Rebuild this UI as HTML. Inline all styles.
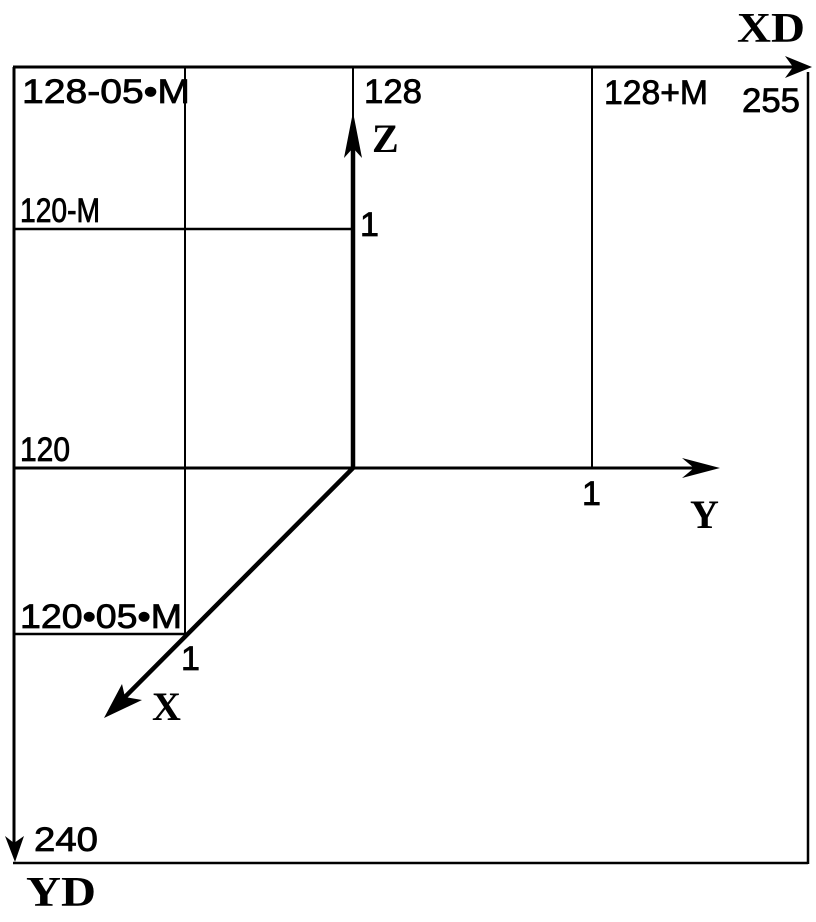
<!DOCTYPE html>
<html><head><style>html,body{margin:0;padding:0;background:#fff}</style></head>
<body>
<svg width="816" height="917" xmlns="http://www.w3.org/2000/svg" font-family="Liberation Sans Narrow, Liberation Sans, sans-serif">
<g stroke="#000" fill="none">
<line x1="13" y1="67" x2="805" y2="67" stroke-width="3"/>
<line x1="808" y1="72" x2="808" y2="864" stroke-width="2.5"/>
<line x1="13" y1="863" x2="808" y2="863" stroke-width="2.5"/>
<line x1="14" y1="67" x2="14" y2="850" stroke-width="3"/>
<line x1="185" y1="67" x2="185" y2="634" stroke-width="2"/>
<line x1="353" y1="67" x2="353" y2="140" stroke-width="2"/>
<line x1="592" y1="67" x2="592" y2="468" stroke-width="2"/>
<line x1="13" y1="229" x2="353" y2="229" stroke-width="2.5"/>
<line x1="13" y1="468" x2="700" y2="468" stroke-width="3"/>
<line x1="13" y1="634" x2="185" y2="634" stroke-width="2.5"/>
<line x1="353" y1="468" x2="353" y2="140" stroke-width="4.5"/>
<line x1="353" y1="468" x2="118" y2="704" stroke-width="4.5"/>
</g>
<g fill="#000">
<polygon points="353,112 344,158 353,148 362,158"/>
<polygon points="720,468 682,458 694,468 682,478"/>
<polygon points="104,718 122,684 125,697 142,700"/>
<polygon points="15,862 5,836 14,843 24,836"/>
<polygon points="812,67 785,56 793,67 785,78" />
</g>
<g font-size="34" fill="#000" stroke="#000" stroke-width="0.8">
<text x="22" y="103" textLength="168" lengthAdjust="spacingAndGlyphs">128-05•M</text>
<text x="364" y="103" textLength="58" lengthAdjust="spacingAndGlyphs">128</text>
<text x="604" y="104" textLength="104" lengthAdjust="spacingAndGlyphs">128+M</text>
<text x="742" y="112" textLength="58" lengthAdjust="spacingAndGlyphs">255</text>
<text x="20" y="222" textLength="80" lengthAdjust="spacingAndGlyphs">120-M</text>
<text x="360" y="236">1</text>
<text x="20" y="461" textLength="50" lengthAdjust="spacingAndGlyphs">120</text>
<text x="582" y="505">1</text>
<text x="20" y="628" textLength="162" lengthAdjust="spacingAndGlyphs">120•05•M</text>
<text x="181" y="670">1</text>
<text x="34" y="851" textLength="64" lengthAdjust="spacingAndGlyphs">240</text>
</g>
<g font-family="Liberation Serif, serif" font-weight="bold" fill="#000">
<text x="372" y="152" font-size="40">Z</text>
<text x="690" y="528" font-size="40">Y</text>
<text x="152" y="720" font-size="40">X</text>
<text x="737" y="42" font-size="42" textLength="68" lengthAdjust="spacingAndGlyphs">XD</text>
<text x="26" y="906" font-size="42" textLength="70" lengthAdjust="spacingAndGlyphs">YD</text>
</g>
</svg>
</body></html>
